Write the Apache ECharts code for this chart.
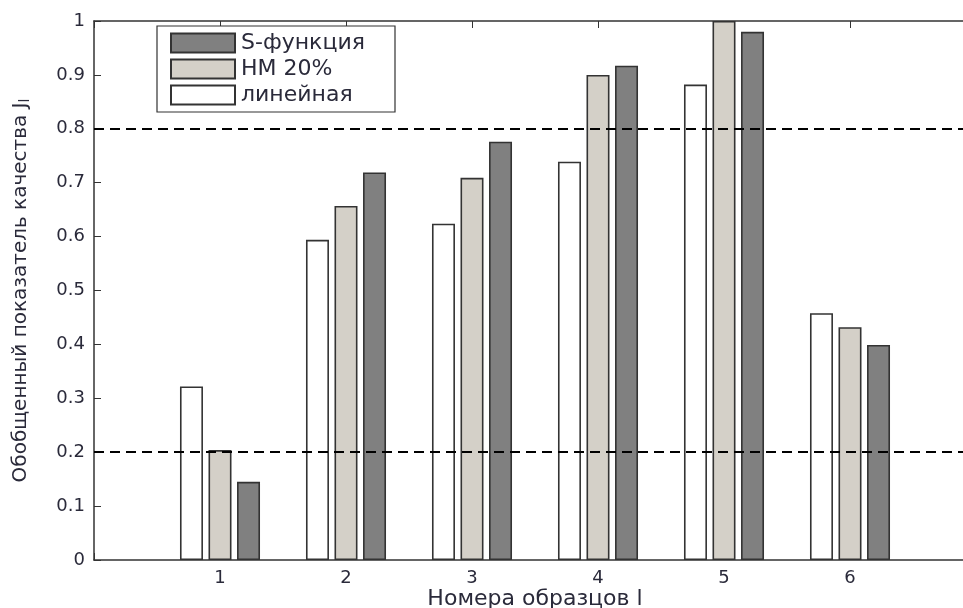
<!DOCTYPE html>
<html>
<head>
<meta charset="utf-8">
<script src="https://cdn.jsdelivr.net/npm/echarts@6/dist/echarts.min.js"></script>
<style>html,body{margin:0;padding:0;background:#fff}#c{width:963px;height:608px}</style>
</head>
<body>
<div id="c"></div>
<script>
var categories = ['', '1', '2', '3', '4', '5', '6', ''];
var linear = [null, 0.322, 0.594, 0.624, 0.739, 0.882, 0.458, null];
var nm20 = [null, 0.204, 0.657, 0.709, 0.900, 1.000, 0.432, null];
var sfunc = [null, 0.145, 0.719, 0.776, 0.917, 0.980, 0.399, null];
var thresholds = [0.8, 0.2];
var seriesNames = ['линейная', 'НМ 20%', 'S-функция'];
var legendOrder = ['S-функция', 'НМ 20%', 'линейная'];

var chart = echarts.init(document.getElementById('c'));
var font = 'DejaVu Sans, Verdana, sans-serif';
var textColor = '#2a2a3a';
var fills = ['#ffffff', '#d4d0c8', '#808080'];
var dataSets = [linear, nm20, sfunc];

var series = dataSets.map(function (d, i) {
  var s = {
    name: seriesNames[i],
    type: 'bar',
    data: d,
    barWidth: 23,
    barGap: '24%',
    itemStyle: { color: fills[i], borderColor: '#333', borderWidth: 1.6 },
    emphasis: { disabled: true },
    animation: false
  };
  if (i === 0) {
    s.markLine = {
      symbol: 'none',
      silent: true,
      label: { show: false },
      lineStyle: { color: '#000', width: 2, type: [10, 6] },
      data: thresholds.map(function (t) { return { yAxis: t }; })
    };
  }
  return s;
});

chart.setOption({
  animation: false,
  backgroundColor: '#fff',
  grid: { left: 94, top: 21, width: 882, height: 539, containLabel: false, outerBoundsMode: 'none' },
  legend: {
    data: legendOrder,
    orient: 'vertical',
    left: 157, top: 26,
    icon: 'rect',
    itemWidth: 64, itemHeight: 19, itemGap: 4,
    padding: [6, 13, 6, 13],
    backgroundColor: '#fff',
    borderColor: '#333', borderWidth: 1.2,
    textStyle: { fontFamily: font, fontSize: 22, lineHeight: 19, color: textColor, width: 141, padding: [0, 0, 0, 1] },
    selectedMode: false
  },
  xAxis: [{
    type: 'category',
    data: categories,
    boundaryGap: false,
    axisLine: { lineStyle: { color: '#333', width: 1.5 } },
    axisTick: { inside: true, length: 7, lineStyle: { color: '#333' } },
    axisLabel: { fontFamily: font, fontSize: 18, color: textColor, margin: 9 },
    name: 'Номера образцов l',
    nameLocation: 'middle',
    nameGap: 28,
    nameMoveOverlap: false,
    nameTextStyle: { fontFamily: font, fontSize: 22, color: textColor, verticalAlign: 'top' },
    splitLine: { show: false }
  }, {
    type: 'category',
    data: categories,
    boundaryGap: false,
    position: 'top',
    axisLine: { lineStyle: { color: '#333', width: 1.5 } },
    axisTick: { inside: true, length: 7, lineStyle: { color: '#333' } },
    axisLabel: { show: false },
    splitLine: { show: false }
  }],
  yAxis: {
    type: 'value',
    min: 0, max: 1, interval: 0.1,
    axisLine: { show: true, lineStyle: { color: '#333', width: 1.5 } },
    axisTick: { show: true, inside: true, length: 7, lineStyle: { color: '#333' } },
    axisLabel: { fontFamily: font, fontSize: 18, color: textColor, margin: 9 },
    splitLine: { show: false },
    name: 'Обобщенный показатель качества J{sub|l}',
    nameLocation: 'middle',
    nameGap: 62,
    nameMoveOverlap: false,
    nameTextStyle: {
      fontFamily: font, fontSize: 20, color: textColor,
      rich: { sub: { fontFamily: font, fontSize: 14, color: textColor, verticalAlign: 'bottom', padding: [8, 0, 0, 0] } }
    }
  },
  series: series
});
</script>
</body>
</html>
